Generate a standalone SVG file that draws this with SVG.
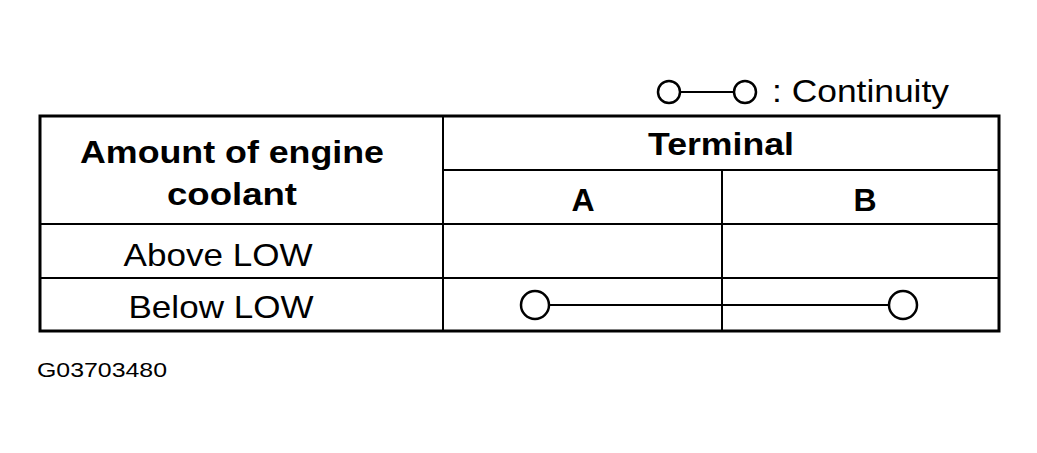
<svg xmlns="http://www.w3.org/2000/svg" width="1037" height="453" viewBox="0 0 1037 453">
<style>
.t{font-family:"Liberation Sans",Arial,sans-serif;fill:#000}
.b{font-weight:bold;font-size:32px}
.r{font-size:32px}
.ln{stroke:#000;stroke-width:2;fill:none}
.c{stroke:#000;stroke-width:2.5;fill:#fff}
</style>
<rect width="1037" height="453" fill="#fff"/>
<g id="table">
<rect x="40" y="116" width="959" height="215" fill="none" stroke="#000" stroke-width="3"/>
<line class="ln" x1="443" y1="116" x2="443" y2="331"/>
<line class="ln" x1="443" y1="170" x2="999" y2="170"/>
<line class="ln" x1="722" y1="170" x2="722" y2="331"/>
<line class="ln" x1="40" y1="224" x2="999" y2="224"/>
<line class="ln" x1="40" y1="278" x2="999" y2="278"/>
</g>
<g id="texts" text-anchor="middle">
<text class="t b" x="232" y="163" textLength="304" lengthAdjust="spacingAndGlyphs">Amount of engine</text>
<text class="t b" x="232" y="205" textLength="130" lengthAdjust="spacingAndGlyphs">coolant</text>
<text class="t b" x="721" y="155" textLength="146" lengthAdjust="spacingAndGlyphs">Terminal</text>
<text class="t b" x="583" y="211">A</text>
<text class="t b" x="865" y="211">B</text>
<text class="t r" x="218" y="266" textLength="189" lengthAdjust="spacingAndGlyphs">Above LOW</text>
<text class="t r" x="221" y="318" textLength="185" lengthAdjust="spacingAndGlyphs">Below LOW</text>
</g>
<g id="legend">
<line class="ln" x1="681" y1="92" x2="734" y2="92"/>
<circle class="c" cx="669" cy="92" r="11"/>
<circle class="c" cx="745" cy="92" r="11"/>
<text class="t r" x="772" y="102" textLength="177" lengthAdjust="spacingAndGlyphs">: Continuity</text>
</g>
<g id="connectors">
<line class="ln" x1="549" y1="305" x2="889" y2="305"/>
<circle class="c" cx="535" cy="305" r="14"/>
<circle class="c" cx="903" cy="305" r="14"/>
</g>
<text class="t" x="37" y="377" font-size="21" textLength="130" lengthAdjust="spacingAndGlyphs">G03703480</text>
</svg>
